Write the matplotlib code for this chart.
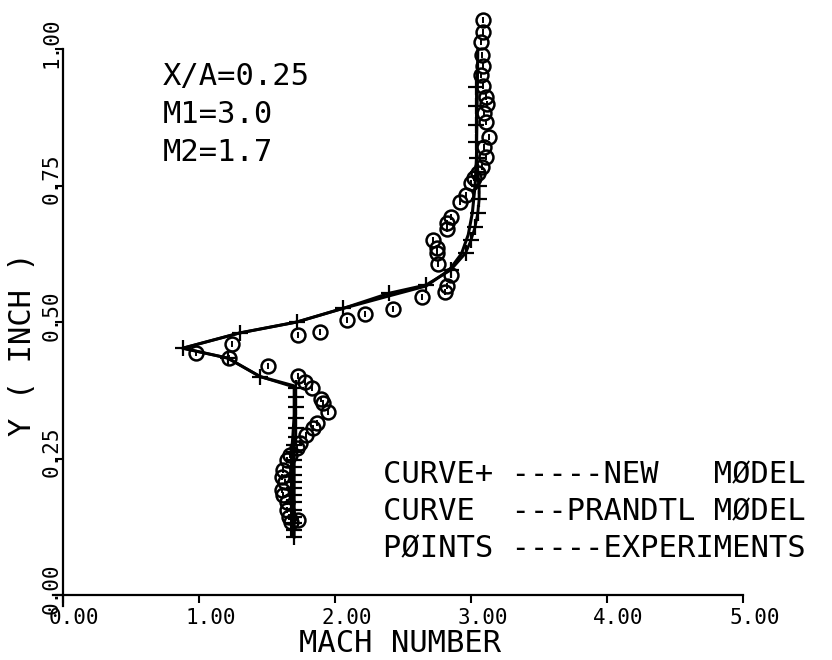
import matplotlib
matplotlib.use("Agg")
import matplotlib.pyplot as plt

# experiments (circles)
exp_x = [3.09, 3.086, 3.07, 3.08, 3.09, 3.07, 3.086, 3.11, 3.12, 3.096, 3.11, 3.13, 3.096,
         3.11, 3.08, 3.05, 3.02, 3.0, 2.96, 2.92, 2.85, 2.82, 2.82, 2.72, 2.75, 2.75, 2.76,
         2.85, 2.82, 2.81, 2.64, 2.43, 2.22, 2.09, 1.89, 1.73, 1.24, 0.98, 1.22, 1.51, 1.73,
         1.78, 1.83, 1.90, 1.91, 1.95, 1.87, 1.84, 1.79, 1.74, 1.72, 1.67, 1.65, 1.62, 1.61,
         1.63, 1.61, 1.62, 1.65, 1.65, 1.66, 1.73, 1.68]
exp_y = [1.054, 1.032, 1.013, 0.989, 0.968, 0.952, 0.932, 0.913, 0.900, 0.882, 0.867, 0.839,
         0.821, 0.803, 0.784, 0.772, 0.763, 0.754, 0.733, 0.720, 0.693, 0.681, 0.670, 0.650,
         0.635, 0.626, 0.607, 0.586, 0.566, 0.555, 0.545, 0.523, 0.515, 0.504, 0.482, 0.476,
         0.460, 0.443, 0.434, 0.420, 0.401, 0.390, 0.379, 0.359, 0.351, 0.335, 0.315, 0.305,
         0.293, 0.278, 0.269, 0.256, 0.247, 0.229, 0.217, 0.207, 0.192, 0.183, 0.170, 0.156,
         0.143, 0.137, 0.134]

# new model (curve with + markers)
new_x = [3.04, 3.04, 3.04, 3.04, 3.045, 3.05, 3.06, 3.06, 3.05, 3.03, 3.00, 2.96, 2.85,
         2.67, 2.40, 2.06, 1.72, 1.30, 0.88, 1.21, 1.45, 1.71, 1.71, 1.71, 1.71, 1.71,
         1.71, 1.70, 1.70, 1.70, 1.70, 1.70, 1.70, 1.70, 1.70, 1.70, 1.70, 1.70, 1.70,
         1.70, 1.70]
new_y = [0.930, 0.895, 0.860, 0.830, 0.800, 0.775, 0.750, 0.725, 0.700, 0.674, 0.650,
         0.626, 0.595, 0.568, 0.553, 0.525, 0.500, 0.480, 0.452, 0.434, 0.400, 0.380,
         0.363, 0.344, 0.324, 0.306, 0.289, 0.275, 0.262, 0.247, 0.234, 0.220, 0.207,
         0.196, 0.183, 0.170, 0.156, 0.143, 0.132, 0.119, 0.106]

# prandtl model (plain curve)
prandtl_x = [3.05, 3.04, 3.03, 3.01, 2.98, 2.93, 2.84, 2.67, 2.40, 2.06, 1.72, 1.30, 0.88,
             1.21, 1.45, 1.70, 1.70, 1.69, 1.68, 1.68]
prandtl_y = [1.00, 0.80, 0.75, 0.70, 0.66, 0.625, 0.595, 0.566, 0.548, 0.525, 0.50, 0.48,
             0.452, 0.434, 0.40, 0.383, 0.33, 0.29, 0.26, 0.11]

xticks = [0, 1, 2, 3, 4, 5]
xtick_labels = ["0.00", "1.00", "2.00", "3.00", "4.00", "5.00"]
yticks = [0, 0.25, 0.5, 0.75, 1.0]
ytick_labels = ["0.00", "0.25", "0.50", "0.75", "1.00"]

notes = ["X/A=0.25", "M1=3.0", "M2=1.7"]
legend_lines = ["CURVE+ -----NEW   M\u00d8DEL",
                "CURVE  ---PRANDTL M\u00d8DEL",
                "P\u00d8INTS -----EXPERIMENTS"]

FONT = "DejaVu Sans Mono"

fig = plt.figure(figsize=(8.32, 6.6), dpi=100)
ax = fig.add_axes([63 / 832, 65 / 660, 680 / 832, 546 / 660])
ax.set_xlim(0, 5)
ax.set_ylim(0, 1)

ax.plot(prandtl_x, prandtl_y, color="black", lw=2.2, clip_on=False)
ax.plot(new_x, new_y, color="black", lw=2.0, marker="+", ms=11, mew=1.6, clip_on=False)
ax.plot(exp_x, exp_y, ls="none", marker="o", ms=10, mfc="none", mec="black", mew=1.8,
        clip_on=False)
ax.plot(exp_x, exp_y, ls="none", marker="|", ms=4, mec="black", mew=1.4, clip_on=False)

for s in ["top", "right"]:
    ax.spines[s].set_visible(False)
for s in ["left", "bottom"]:
    ax.spines[s].set_linewidth(1.6)
ax.spines["left"].set_bounds(-0.02, 1.0)
ax.spines["bottom"].set_bounds(-0.07, 5.0)

ax.set_xticks(xticks)
ax.set_yticks(yticks)
ax.set_xticklabels([])
ax.set_yticklabels([])
ax.tick_params(direction="out", length=6, width=1.5)

# tick labels, decimal point sits on the tick like the plotter
for x, lab in zip(xticks, xtick_labels):
    ax.annotate(lab, (x, 0), xycoords="data", xytext=(-10, -16.5), textcoords="offset points",
                ha="left", va="center", fontsize=15, family=FONT)
for y, lab in zip(yticks, ytick_labels):
    ax.annotate(lab, (0, y), xycoords="data", xytext=(-1, -13.5), textcoords="offset points",
                ha="right", va="bottom", rotation=90, fontsize=15, family=FONT)

ax.text(2.48, -0.088, "MACH NUMBER", ha="center", va="center", fontsize=22, family=FONT)
ax.text(-0.30, 0.46, "Y ( INCH )", ha="center", va="center", rotation=90, fontsize=22,
        family=FONT)

for i, t in enumerate(notes):
    ax.text(0.735, 0.95 - i * 0.0696, t, ha="left", va="center", fontsize=22, family=FONT)
for i, t in enumerate(legend_lines):
    ax.text(2.35, 0.22 - i * 0.068, t, ha="left", va="center", fontsize=22, family=FONT)

fig.savefig("out.png", dpi=100)
